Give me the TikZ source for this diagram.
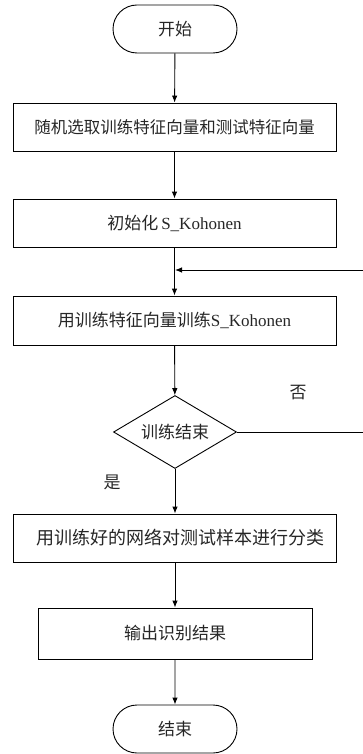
\documentclass[tikz,border=0pt]{standalone}
\usepackage{fontspec}
\setmainfont{Liberation Serif}
\newfontfamily\cjk{Noto Sans CJK SC}
\usetikzlibrary{shapes.misc,shapes.geometric,arrows.meta}
\tikzset{
  base/.style={draw=black,line width=0.9pt,inner sep=0pt,font=\fontsize{17}{19}\selectfont\cjk,text=black!85},
  terminal/.style={base,rounded rectangle,minimum width=124pt,minimum height=48pt},
  procbox/.style={base,rectangle,minimum height=48pt},
  decision/.style={base,diamond,minimum width=123pt,minimum height=73pt,aspect=1.7},
  flow/.style={line width=0.9pt,-{Latex[length=7pt,width=5.5pt]}},
  plain/.style={line width=0.9pt},
  lbl/.style={font=\fontsize{17}{19}\selectfont\cjk,text=black!85,inner sep=0pt}
}
\begin{document}
\begin{tikzpicture}[x=1pt,y=-1pt]
\useasboundingbox (0,0) rectangle (363,754);
\node[terminal] (start) at (175,29) {开始};
\node[procbox,minimum width=323pt,font=\fontsize{16.5}{18}\selectfont\cjk] (b1) at (174.5,127) {随机选取训练特征向量和测试特征向量};
\node[procbox,minimum width=323pt] (b2) at (174.5,223) {初始化\,{\rmfamily S\_Kohonen}};
\node[procbox,minimum width=323pt,minimum height=49pt] (b3) at (174.5,320.5) {用训练特征向量训练{\rmfamily S\_Kohonen}};
\node[decision] (d) at (175,432) {训练结束};
\node[procbox,minimum width=323pt,font=\fontsize{18}{20}\selectfont\cjk] (b4) at (174.5,538) {\hspace*{12pt}用训练好的网络对测试样本进行分类};
\node[procbox,minimum width=274pt,minimum height=51pt] (b5) at (175,633.5) {输出识别结果};
\node[terminal] (end) at (175,729) {结束};
\node[lbl] (no) at (298,393) {否};
\node[lbl] (yes) at (112,482) {是};
\coordinate (fb) at (175,270);
\coordinate (edge) at (364.5,432);
\draw[flow] (start) -- (b1);
\draw[flow] (b1) -- (b2);
\draw[flow] (b2) -- (b3);
\draw[flow] (b3) -- (d);
\draw[flow] (d.south) -- (d.south |- b4.north);
\draw[flow] (b4.south -| d.south) -- (b5);
\draw[flow] (b5) -- (end);
\draw[flow] (d.east) -- (edge) |- (fb);
\end{tikzpicture}
\end{document}
